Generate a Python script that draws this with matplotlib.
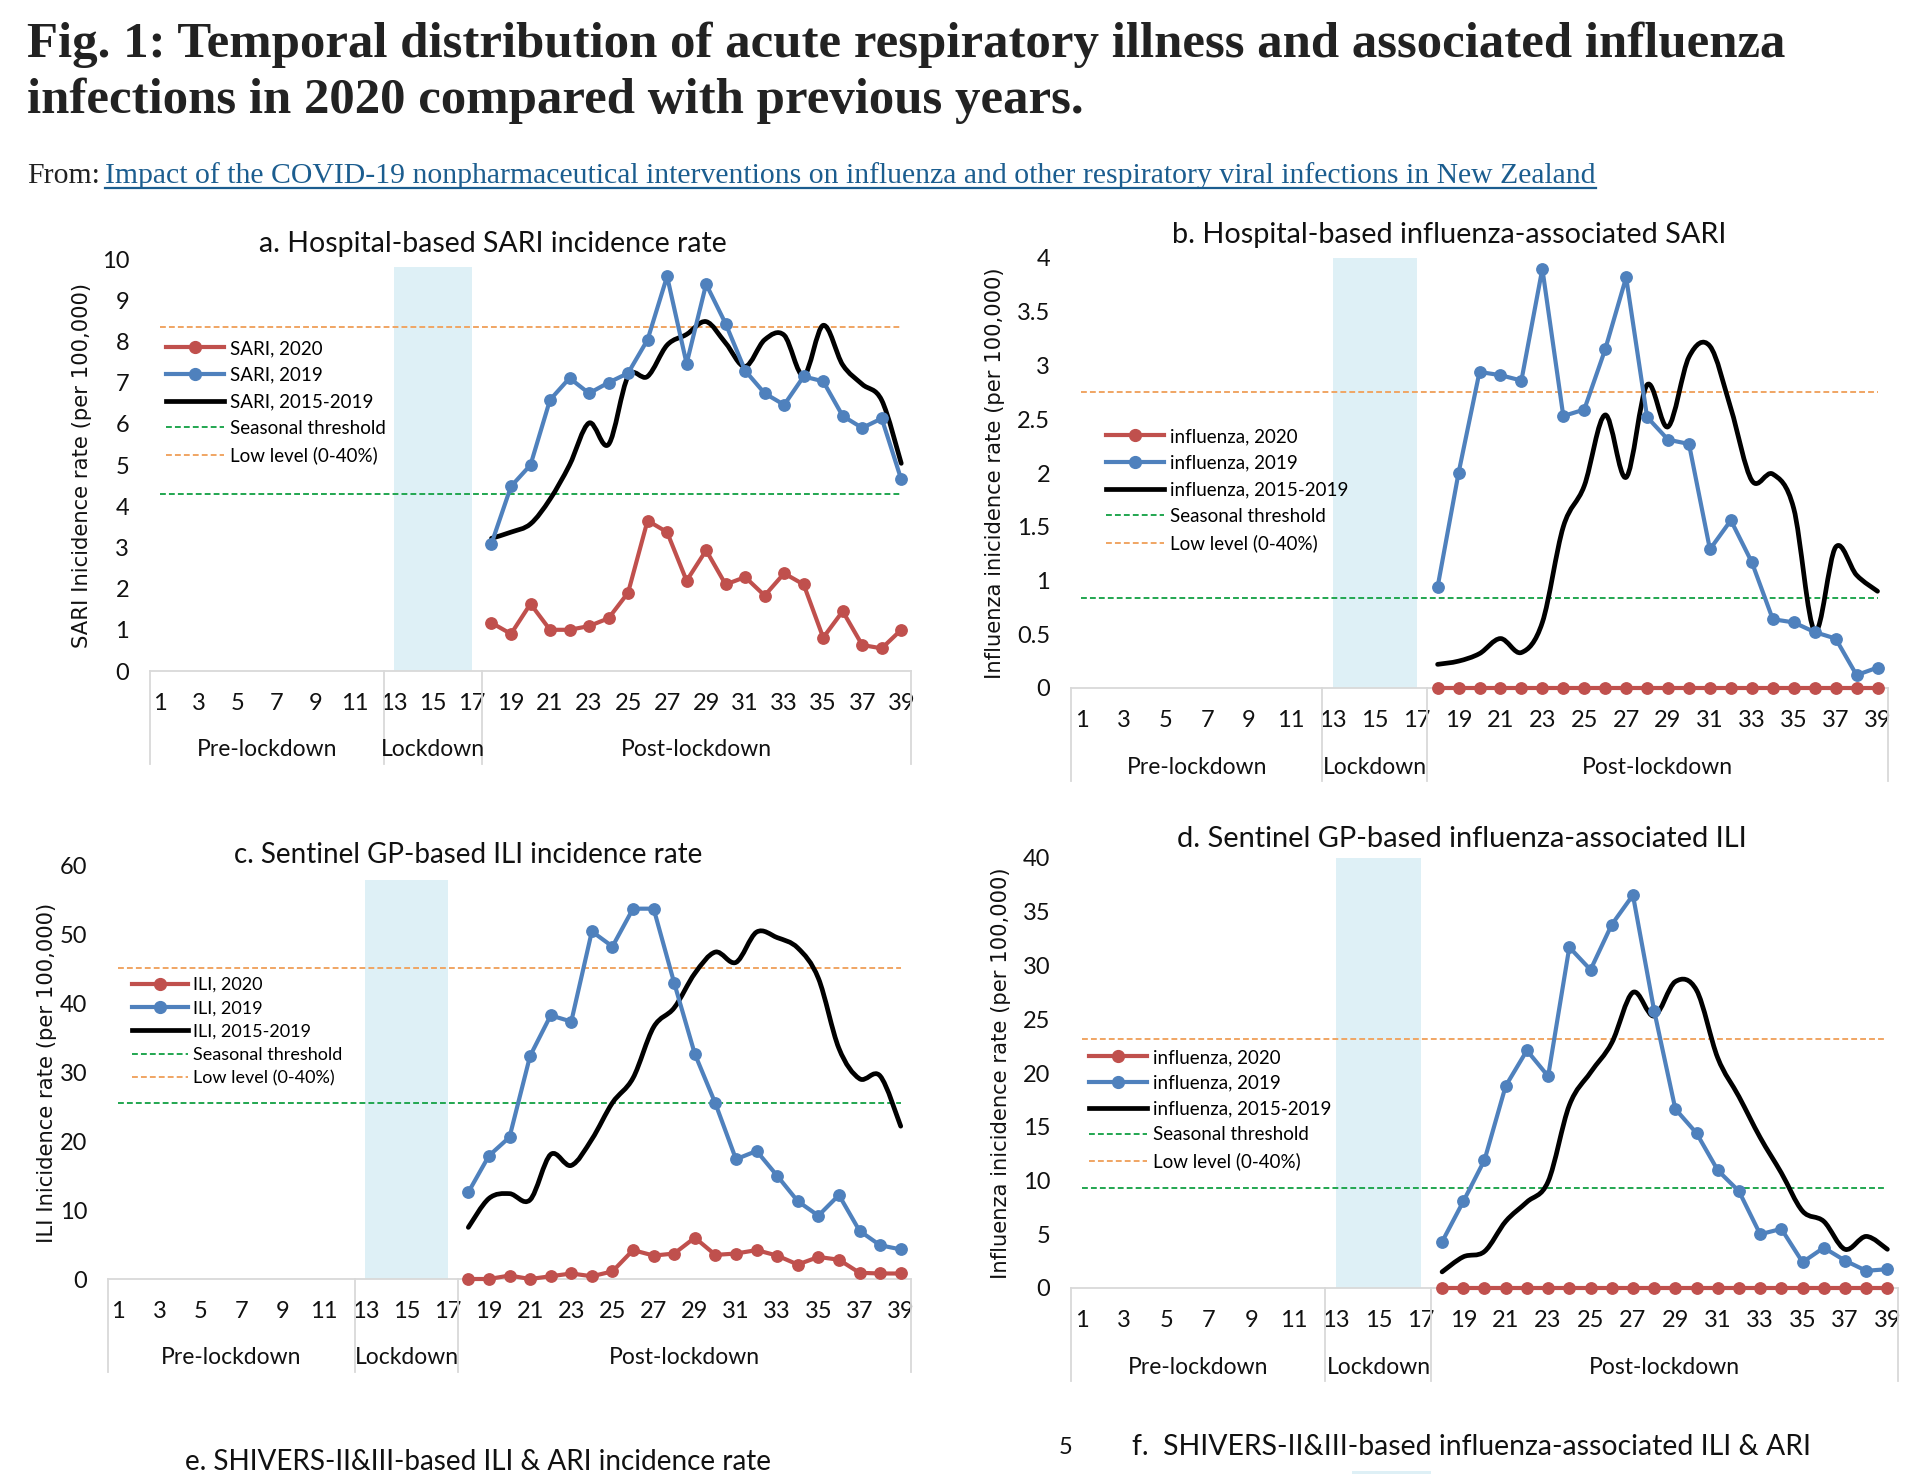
import numpy as np
import matplotlib
matplotlib.use("Agg")
import matplotlib.pyplot as plt
from matplotlib.path import Path
from matplotlib.patches import PathPatch
from matplotlib.lines import Line2D

W, H = 1921, 1474

# ---- data (weekly incidence per 100,000, weeks 18-39 of 2020) ----
weeks = list(range(18, 40))
tick_weeks = list(range(1, 40, 2))
groups = ["Pre-lockdown", "Lockdown", "Post-lockdown"]
group_edges = [0.5, 12.5, 17.5, 39.5]
lockdown = (13, 17)
line_span = (1, 39)

# a. hospital SARI
sari_2020 = [1.17, 0.9, 1.63, 1.0, 1.0, 1.09, 1.28, 1.9, 3.65, 3.37, 2.19,
             2.93, 2.1, 2.28, 1.83, 2.37, 2.1, 0.81, 1.45, 0.63, 0.55, 1.0]
sari_2019 = [3.09, 4.48, 5.0, 6.58, 7.11, 6.74, 7.0, 7.23, 8.04, 9.58, 7.46,
             9.39, 8.43, 7.29, 6.74, 6.46, 7.15, 7.03, 6.19, 5.9, 6.13, 4.65]
sari_avg = [3.22, 3.37, 3.57, 4.17, 5.0, 6.02, 5.5, 7.15, 7.15, 7.91, 8.17,
            8.48, 7.96, 7.39, 8.04, 8.15, 7.17, 8.39, 7.43, 6.96, 6.57, 5.04]
sari_thr = (4.3, 8.35)

# b. hospital influenza-associated SARI
hflu_2020 = [0.0] * 22
hflu_2019 = [0.94, 2.0, 2.94, 2.91, 2.86, 3.9, 2.53, 2.59, 3.15, 3.82, 2.52,
             2.31, 2.27, 1.29, 1.56, 1.17, 0.64, 0.61, 0.52, 0.46, 0.12, 0.19]
hflu_avg = [0.22, 0.25, 0.32, 0.46, 0.33, 0.61, 1.5, 1.88, 2.54, 1.96, 2.82,
            2.43, 3.08, 3.18, 2.6, 1.93, 1.99, 1.67, 0.53, 1.31, 1.05, 0.9]
hflu_thr = (0.84, 2.75)

# c. sentinel GP ILI
ili_2020 = [0.0, 0.0, 0.5, 0.0, 0.4, 0.8, 0.4, 1.1, 4.2, 3.4, 3.7,
            6.0, 3.5, 3.7, 4.2, 3.4, 2.1, 3.2, 2.8, 0.9, 0.8, 0.8]
ili_2019 = [12.6, 17.9, 20.6, 32.4, 38.3, 37.4, 50.5, 48.3, 53.8, 53.8, 43.0,
            32.7, 25.5, 17.4, 18.6, 15.0, 11.3, 9.2, 12.2, 7.0, 4.9, 4.3]
ili_avg = [7.5, 11.7, 12.4, 11.5, 18.1, 16.5, 20.3, 25.6, 29.2, 36.6, 39.4,
           44.4, 47.5, 46.0, 50.4, 49.6, 48.1, 43.7, 33.5, 29.1, 29.5, 22.2]
ili_thr = (25.5, 45.2)

# d. sentinel GP influenza-associated ILI
gflu_2020 = [0.0] * 22
gflu_2019 = [4.3, 8.05, 11.9, 18.8, 22.1, 19.7, 31.7, 29.6, 33.8, 36.55, 25.8,
             16.65, 14.4, 10.95, 9.0, 5.0, 5.5, 2.4, 3.75, 2.55, 1.6, 1.75]
gflu_avg = [1.5, 2.9, 3.4, 6.2, 8.0, 9.9, 17.0, 20.05, 22.8, 27.5, 25.3,
            28.5, 27.7, 21.4, 17.8, 14.0, 10.7, 7.15, 6.2, 3.6, 4.8, 3.6]
gflu_thr = (9.27, 23.2)

RED, BLUE = "#c0504d", "#4f81bd"
GREEN, ORANGE = "#21a650", "#f0a563"
BAND = "#def0f6"
AXIS_GREY = "#d9d9d9"
SANS = "Lato"

fig = plt.figure(figsize=(W / 100, H / 100), dpi=100)
renderer = fig.canvas.get_renderer()


def fit_width(txt, target):
    bb = txt.get_window_extent(renderer=renderer)
    txt.set_fontsize(txt.get_fontsize() * target / bb.width)


def smooth_path(x, y):
    # Excel-style smoothed line (cardinal spline as cubic Bezier segments)
    pts = np.column_stack([x, y]).astype(float)
    n = len(pts)
    verts, codes = [pts[0]], [Path.MOVETO]
    for i in range(n - 1):
        p0, p1 = pts[max(i - 1, 0)], pts[i]
        p2, p3 = pts[i + 1], pts[min(i + 2, n - 1)]
        verts += [p1 + (p2 - p0) / 6, p2 - (p3 - p1) / 6, p2]
        codes += [Path.CURVE4] * 3
    return Path(verts, codes)


def panel(box, ymax, ystep, band_top, thr, s2020, s2019, savg, prefix,
          ylabel, ylab_x, leg_xy, leg_space, leg_size, title, title_xy, title_w):
    left, top, right, bottom = box
    wpx, hpx = right - left, bottom - top
    ax = fig.add_axes([left / W, 1 - bottom / H, wpx / W, hpx / H])
    ax.set_xlim(0.5, 39.5)
    ax.set_ylim(0, ymax)
    for s in ("top", "right", "left"):
        ax.spines[s].set_visible(False)
    ax.spines["bottom"].set_color(AXIS_GREY)
    ax.spines["bottom"].set_linewidth(1.3)

    ax.set_xticks(tick_weeks)
    ax.set_xticklabels([str(w) for w in tick_weeks])
    yt = np.arange(0, ymax + ystep / 2, ystep)
    ax.set_yticks(yt)
    ax.set_yticklabels([f"{v:g}" for v in yt])
    ax.tick_params(axis="both", length=0, labelsize=17, colors="#111111")
    ax.tick_params(axis="x", pad=16)
    ax.tick_params(axis="y", pad=15)
    for lab in ax.get_xticklabels() + ax.get_yticklabels():
        lab.set_family(SANS)

    # multi-level category axis: group separators and names
    xt = ax.get_xaxis_transform()
    for e in group_edges:
        ax.plot([e, e], [0, -93 / hpx], transform=xt, color=AXIS_GREY,
                lw=1.3, clip_on=False)
    for i, g in enumerate(groups):
        ax.text((group_edges[i] + group_edges[i + 1]) / 2, -79 / hpx, g,
                transform=xt, ha="center", va="center", fontsize=16.5,
                family=SANS, color="#111111")

    ax.axvspan(lockdown[0], lockdown[1], ymin=0, ymax=band_top / ymax,
               color=BAND, lw=0, zorder=0)
    ax.hlines(thr[0], *line_span, colors=GREEN, lw=1.4,
              linestyles=(0, (3, 1.6)), zorder=1)
    ax.hlines(thr[1], *line_span, colors=ORANGE, lw=1.4,
              linestyles=(0, (3, 1.6)), zorder=1)

    ax.add_patch(PathPatch(smooth_path(weeks, savg), fill=False,
                           edgecolor="black", lw=3.4, zorder=3,
                           joinstyle="round", capstyle="round"))
    ax.plot(weeks, s2019, color=BLUE, lw=3.0, marker="o", ms=8.2,
            solid_joinstyle="round", zorder=4, clip_on=False)
    ax.plot(weeks, s2020, color=RED, lw=3.0, marker="o", ms=8.2,
            solid_joinstyle="round", zorder=5, clip_on=False)

    handles = [
        Line2D([], [], color=RED, lw=3.0, marker="o", ms=8.5),
        Line2D([], [], color=BLUE, lw=3.0, marker="o", ms=8.5),
        Line2D([], [], color="black", lw=3.4),
        Line2D([], [], color=GREEN, lw=1.4, linestyle=(0, (3, 1.6))),
        Line2D([], [], color=ORANGE, lw=1.4, linestyle=(0, (3, 1.6))),
    ]
    names = [f"{prefix}, 2020", f"{prefix}, 2019", f"{prefix}, 2015-2019",
             "Seasonal threshold", "Low level (0-40%)"]
    ax.legend(handles, names, loc="upper left",
              bbox_to_anchor=(leg_xy[0] / W, 1 - leg_xy[1] / H),
              bbox_transform=fig.transFigure, frameon=False, borderpad=0,
              borderaxespad=0, handlelength=3.1, handletextpad=0.3,
              labelspacing=leg_space, prop={"family": SANS, "size": leg_size})

    ax.text((ylab_x - left) / wpx, 0.5, ylabel, transform=ax.transAxes,
            rotation=90, ha="center", va="center", fontsize=15.2,
            family="DejaVu Sans", color="#111111")

    t = fig.text(title_xy[0] / W, 1 - title_xy[1] / H, title, ha="center",
                 va="center", fontsize=19, family=SANS, color="#111111")
    fit_width(t, title_w)
    return ax


panel((150, 259, 911, 671), 10, 1, 9.8, sari_thr, sari_2020, sari_2019,
      sari_avg, "SARI", "SARI Inicidence rate (per 100,000)", 82,
      (166, 340), 0.51, 13.5, "a. Hospital-based SARI incidence rate",
      (493, 244), 468)
panel((1071, 258, 1888, 688), 4, 0.5, 4.0, hflu_thr, hflu_2020, hflu_2019,
      hflu_avg, "influenza", "Influenza inicidence rate (per 100,000)", 995,
      (1106, 428), 0.51, 13.5, "b. Hospital-based influenza-associated SARI",
      (1449, 235), 556)
panel((108, 866, 911, 1279), 60, 10, 58, ili_thr, ili_2020, ili_2019,
      ili_avg, "ILI", "ILI Inicidence rate (per 100,000)", 47,
      (132, 977), 0.41, 13, "c. Sentinel GP-based ILI incidence rate",
      (468, 855), 468)
panel((1071, 858, 1898, 1288), 40, 5, 40, gflu_thr, gflu_2020, gflu_2019,
      gflu_avg, "influenza", "Influenza inicidence rate (per 100,000)", 1001,
      (1089, 1049), 0.47, 13.5, "d. Sentinel GP-based influenza-associated ILI",
      (1462, 839), 572)

# panels e and f start below the page edge: only titles and band top show
t = fig.text(478 / W, 1 - 1462 / H, "e. SHIVERS-II&III-based ILI & ARI incidence rate",
             ha="center", va="center", fontsize=19, family=SANS, color="#111111")
fit_width(t, 586)
t = fig.text(1471 / W, 1 - 1447 / H, "f.  SHIVERS-II&III-based influenza-associated ILI & ARI",
             ha="center", va="center", fontsize=19, family=SANS, color="#111111")
fit_width(t, 675)
fig.text(1066 / W, 1 - 1447 / H, "5", ha="center", va="center", fontsize=17,
         family=SANS, color="#111111")
axf = fig.add_axes([1105 / W, (H - 1471 - 400) / H, 770 / W, 400 / H])
axf.set_xlim(0.5, 39.5)
axf.axvspan(lockdown[0], lockdown[1], color=BAND, lw=0)
axf.axis("off")

# header
t1 = fig.text(27 / W, 1 - 57 / H,
              "Fig. 1: Temporal distribution of acute respiratory illness and associated influenza",
              ha="left", va="baseline", fontsize=36, fontweight="bold",
              family="Liberation Serif", color="#222222")
fit_width(t1, 1761)
fig.text(27 / W, 1 - 113 / H, "infections in 2020 compared with previous years.",
         ha="left", va="baseline", fontsize=t1.get_fontsize(), fontweight="bold",
         family="Liberation Serif", color="#222222")

link = fig.text(105 / W, 1 - 183 / H,
                "Impact of the COVID-19 nonpharmaceutical interventions on influenza "
                "and other respiratory viral infections in New Zealand",
                ha="left", va="baseline", fontsize=21, family="Liberation Serif",
                color="#1b5d8f")
fit_width(link, 1492)
fig.text(27 / W, 1 - 183 / H, "From:", ha="left", va="baseline",
         fontsize=link.get_fontsize(), family="Liberation Serif", color="#222222")
bb = link.get_window_extent(renderer=renderer)
fig.add_artist(Line2D([bb.x0 / W, bb.x1 / W], [1 - 188 / H, 1 - 188 / H],
                      color="#1b5d8f", lw=1.6))

fig.savefig("out.png", dpi=100, facecolor="white")
